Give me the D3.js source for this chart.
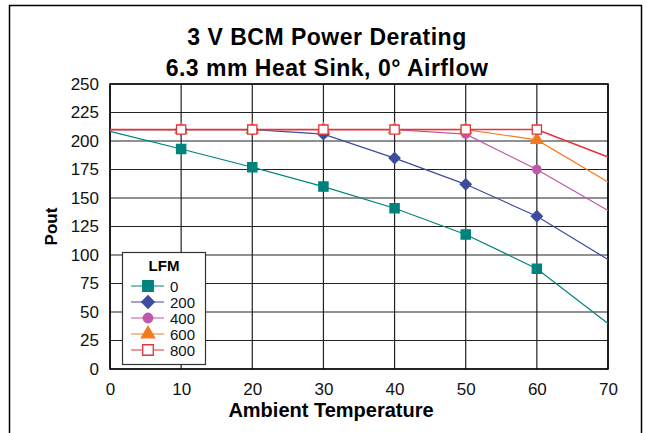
<!DOCTYPE html>
<html>
<head>
<meta charset="utf-8">
<script src="https://cdn.jsdelivr.net/npm/d3@7"></script>
<style>
  body { margin: 0; background: #fff; }
  svg text { font-family: "Liberation Sans", Arial, sans-serif; }
</style>
</head>
<body>
<div id="chart"></div>
<script>
// Daten
const temps = [0, 10, 20, 30, 40, 50, 60, 70];
const lfm0 = [208.5, 193, 177, 160, 141, 118, 88, 40];
const lfm200 = [210, 210, 210, 206, 185, 162, 134, 96];
const lfm400 = [210, 210, 210, 210, 210, 206, 175, 139];
const lfm600 = [210, 210, 210, 210, 210, 210, 201, 164];
const lfm800 = [210, 210, 210, 210, 210, 210, 210, 186];
const seriesNames = ["0", "200", "400", "600", "800"];
const xTicks = [0, 10, 20, 30, 40, 50, 60, 70];
const yTicks = [0, 25, 50, 75, 100, 125, 150, 175, 200, 225, 250];

const width = 647, height = 433;
const margin = {left: 110, right: 39, top: 84, bottom: 64};

const svg = d3.select("#chart").append("svg")
    .attr("width", width)
    .attr("height", height);

// Rahmen
svg.append("rect")
    .attr("x", 9.5).attr("y", 5.5)
    .attr("width", 632).attr("height", 440)
    .attr("fill", "none").attr("stroke", "#000").attr("stroke-width", 1.5);

const x = d3.scaleLinear().domain([0, 70]).range([margin.left, width - margin.right]);
const y = d3.scaleLinear().domain([0, 250]).range([height - margin.bottom, margin.top]);

// Gitter
svg.append("g").selectAll("line")
    .data(xTicks)
    .join("line")
    .attr("x1", d => x(d)).attr("x2", d => x(d))
    .attr("y1", y(0)).attr("y2", y(250))
    .attr("stroke", "#222").attr("stroke-width", 1.2);

svg.append("g").selectAll("line")
    .data(yTicks)
    .join("line")
    .attr("x1", x(0)).attr("x2", x(70))
    .attr("y1", d => y(d)).attr("y2", d => y(d))
    .attr("stroke", "#222").attr("stroke-width", 1.2);

svg.append("rect")
    .attr("x", x(0)).attr("y", y(250))
    .attr("width", x(70) - x(0)).attr("height", y(0) - y(250))
    .attr("fill", "none").attr("stroke", "#000").attr("stroke-width", 1.5);

// Achsen
const xAxis = svg.append("g")
    .attr("transform", `translate(0,${y(0)})`)
    .call(d3.axisBottom(x).tickValues(xTicks).tickSize(0).tickPadding(14));
const yAxis = svg.append("g")
    .attr("transform", `translate(${x(0)},0)`)
    .call(d3.axisLeft(y).tickValues(yTicks).tickSize(0).tickPadding(11));
[xAxis, yAxis].forEach(a => {
    a.select(".domain").remove();
    a.selectAll("text")
        .style("font-size", "17px")
        .style("font-family", "Liberation Sans, Arial, sans-serif")
        .attr("fill", "#111");
});

// Titel
svg.append("text")
    .attr("x", 327).attr("y", 45)
    .attr("text-anchor", "middle")
    .style("font-size", "23px").style("font-weight", "bold")
    .style("letter-spacing", "0.5px")
    .text("3 V BCM Power Derating");
svg.append("text")
    .attr("x", 327).attr("y", 76)
    .attr("text-anchor", "middle")
    .style("font-size", "23px").style("font-weight", "bold")
    .style("letter-spacing", "0.5px")
    .text("6.3 mm Heat Sink, 0° Airflow");

svg.append("text")
    .attr("x", 331).attr("y", 417)
    .attr("text-anchor", "middle")
    .style("font-size", "20px").style("font-weight", "bold")
    .text("Ambient Temperature");
svg.append("text")
    .attr("transform", `translate(57,${(y(0) + y(250)) / 2}) rotate(-90)`)
    .attr("text-anchor", "middle")
    .style("font-size", "17px").style("font-weight", "bold")
    .text("Pout");

// Serien
const series = [
    {name: seriesNames[0], values: lfm0, color: "#00837c", symbol: d3.symbolSquare, size: 85, rot: 0, fill: "#00837c"},
    {name: seriesNames[1], values: lfm200, color: "#3c4c9e", symbol: d3.symbolSquare, size: 60, rot: 45, fill: "#3c4c9e"},
    {name: seriesNames[2], values: lfm400, color: "#c058aa", symbol: d3.symbolCircle, size: 55, rot: 0, fill: "#c058aa"},
    {name: seriesNames[3], values: lfm600, color: "#f47a22", symbol: d3.symbolTriangle, size: 60, rot: 0, fill: "#f47a22"},
    {name: seriesNames[4], values: lfm800, color: "#e6323c", symbol: d3.symbolSquare, size: 85, rot: 0, fill: "#fff"}
];

const line = d3.line()
    .x((d, i) => x(temps[i]))
    .y(d => y(d));

series.forEach(s => {
    svg.append("path")
        .datum(s.values)
        .attr("d", line)
        .attr("fill", "none")
        .attr("stroke", s.color)
        .attr("stroke-width", s.name === "800" ? 1.5 : 1.2);
});

series.forEach(s => {
    svg.append("g").selectAll("path")
        .data(s.values.map((v, i) => ({t: temps[i], v})).filter(d => d.t > 0 && d.t < 70))
        .join("path")
        .attr("transform", d => `translate(${x(d.t)},${y(d.v)}) rotate(${s.rot})`)
        .attr("d", d3.symbol().type(s.symbol).size(s.size))
        .attr("fill", s.fill)
        .attr("stroke", s.color)
        .attr("stroke-width", 1.3);
});

// Legende
const legend = svg.append("g").attr("transform", "translate(122,252)");
legend.append("rect")
    .attr("x", 0.5).attr("y", 0.5)
    .attr("width", 83).attr("height", 112)
    .attr("fill", "#fff").attr("stroke", "#333").attr("stroke-width", 1.2);
legend.append("text")
    .attr("x", 42).attr("y", 19)
    .attr("text-anchor", "middle")
    .style("font-size", "15px").style("font-weight", "bold")
    .text("LFM");

const items = legend.selectAll(".item")
    .data(series)
    .join("g")
    .attr("class", "item")
    .attr("transform", (d, i) => `translate(0,${34 + i * 16})`);
items.append("line")
    .attr("x1", 9).attr("x2", 42)
    .attr("stroke", d => d.color).attr("stroke-width", 1.2);
items.append("path")
    .attr("transform", d => `translate(26,0) rotate(${d.rot})`)
    .attr("d", d => d3.symbol().type(d.symbol).size(d.size * 1.3)())
    .attr("fill", d => d.fill)
    .attr("stroke", d => d.color)
    .attr("stroke-width", 1.3);
items.append("text")
    .attr("x", 48).attr("y", 5.5)
    .style("font-size", "15px")
    .attr("fill", "#111")
    .text(d => d.name);
</script>
</body>
</html>
